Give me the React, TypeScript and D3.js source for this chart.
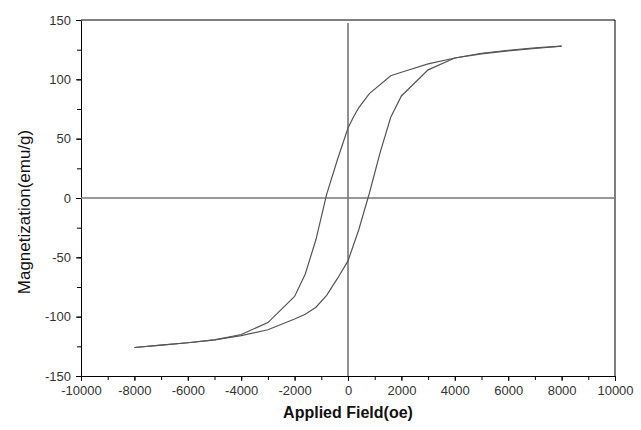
import React, { useEffect, useRef } from "react";
import * as d3 from "d3";

// descending branch (field swept from +8000 down to -8000)
const downField = [8000, 7000, 6000, 5000, 4000, 3000, 2000, 1600, 800, 400, 200, 0, -400, -800, -1200, -1600, -2000, -3000, -4000, -5000, -6000, -7000, -8000];
const downMag = [128, 126.5, 124.5, 122, 118, 113, 106, 103, 88, 76, 68, 59, 32, 3, -35, -64, -83, -105, -115, -119.5, -122, -124, -126];

// ascending branch (field swept from -8000 up to +8000)
const upField = [-8000, -7000, -6000, -5000, -4000, -3000, -2000, -1600, -1200, -800, -400, 0, 400, 800, 1200, 1600, 2000, 3000, 4000, 5000, 6000, 7000, 8000];
const upMag = [-126, -124, -122, -119.5, -116, -111, -102, -98, -92, -82, -68, -53, -27, 4, 38, 68, 86, 108, 118, 121.5, 124, 126, 128];

const xTicks = [-10000, -8000, -6000, -4000, -2000, 0, 2000, 4000, 6000, 8000, 10000];
const yTicks = [-150, -100, -50, 0, 50, 100, 150];

const App = () => {
  const chartRef = useRef<SVGSVGElement | null>(null);

  useEffect(() => {
    const width = 641;
    const height = 430;
    const margin = { top: 20, right: 26, bottom: 54, left: 81 };
    const innerW = width - margin.left - margin.right;
    const innerH = height - margin.top - margin.bottom;

    const svg = d3.select(chartRef.current);
    svg.selectAll("*").remove();

    const g = svg
      .append("g")
      .attr("transform", `translate(${margin.left},${margin.top})`);

    const x = d3.scaleLinear().domain([-10000, 10000]).range([0, innerW]);
    const y = d3.scaleLinear().domain([-150, 150]).range([innerH, 0]);

    const font = "'Liberation Sans', Arial, sans-serif";
    const fmt = (d: d3.NumberValue) => String(d);

    // minor ticks first
    g.append("g")
      .attr("transform", `translate(0,${innerH})`)
      .call(d3.axisBottom(x).tickValues(d3.range(-10000, 10001, 1000)).tickSize(4).tickFormat(() => ""))
      .call((a) => a.select(".domain").remove());
    g.append("g")
      .call(d3.axisLeft(y).tickValues(d3.range(-150, 151, 25)).tickSize(4).tickFormat(() => ""))
      .call((a) => a.select(".domain").remove());

    // major axes
    const xAxis = g
      .append("g")
      .attr("transform", `translate(0,${innerH})`)
      .call(d3.axisBottom(x).tickValues(xTicks).tickSize(5).tickSizeOuter(0).tickPadding(5).tickFormat(fmt));
    xAxis.selectAll("text").attr("font-size", 13).attr("font-family", font).attr("fill", "#333");

    const yAxis = g
      .append("g")
      .call(d3.axisLeft(y).tickValues(yTicks).tickSize(5).tickSizeOuter(0).tickPadding(5).tickFormat(fmt));
    yAxis.selectAll("text").attr("font-size", 13).attr("font-family", font).attr("fill", "#333");

    // top and right frame
    g.append("line").attr("x1", 0).attr("x2", innerW).attr("y1", 0).attr("y2", 0).attr("stroke", "#000");
    g.append("line").attr("x1", innerW).attr("x2", innerW).attr("y1", 0).attr("y2", innerH).attr("stroke", "#000");

    // zero lines
    g.append("line")
      .attr("x1", 0).attr("x2", innerW)
      .attr("y1", y(0)).attr("y2", y(0))
      .attr("stroke", "#777").attr("stroke-width", 1.6);
    g.append("line")
      .attr("x1", x(0)).attr("x2", x(0))
      .attr("y1", 3).attr("y2", innerH)
      .attr("stroke", "#777").attr("stroke-width", 1.6);

    const line = d3
      .line<[number, number]>()
      .x((d) => x(d[0]))
      .y((d) => y(d[1]));

    const down = downField.map((f, i) => [f, downMag[i]] as [number, number]);
    const up = upField.map((f, i) => [f, upMag[i]] as [number, number]);

    [down, up].forEach((data) => {
      g.append("path")
        .datum(data)
        .attr("fill", "none")
        .attr("stroke", "#555")
        .attr("stroke-width", 1.2)
        .attr("d", line);
    });

    // axis titles
    svg
      .append("text")
      .attr("x", margin.left + innerW / 2)
      .attr("y", 418)
      .attr("text-anchor", "middle")
      .attr("font-family", font)
      .attr("font-weight", "bold")
      .attr("font-size", 16)
      .attr("fill", "#111")
      .text("Applied Field(oe)");

    svg
      .append("text")
      .attr("transform", `translate(30,212) rotate(-90)`)
      .attr("text-anchor", "middle")
      .attr("font-family", font)
      .attr("font-size", 17)
      .attr("fill", "#111")
      .text("Magnetization(emu/g)");
  }, []);

  return (
    <svg
      ref={chartRef}
      width={641}
      height={430}
      style={{ position: "absolute", left: 0, top: 0, background: "#fff" }}
    />
  );
};

export default App;
